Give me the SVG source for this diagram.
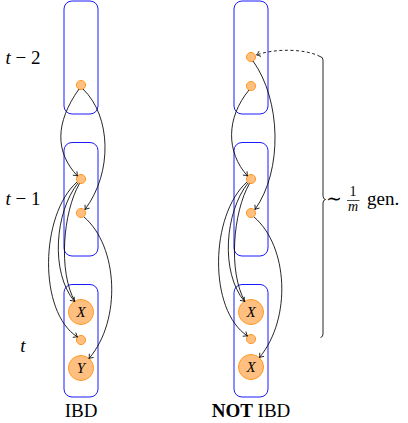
<svg xmlns="http://www.w3.org/2000/svg" width="408" height="423" viewBox="0 0 408 423">
<style>
.box{fill:none;stroke:#0000ff;stroke-width:0.9}
.dot{fill:#ffbf80;stroke:#ff9922;stroke-width:1}
.edge{fill:none;stroke:#000;stroke-width:0.85}
.lbl{font-family:"Liberation Serif","Times New Roman","DejaVu Serif",serif;font-size:19px;fill:#000}
.sm{font-size:14px}
.it{font-style:italic}
.var{font-family:"Liberation Serif","Times New Roman","DejaVu Serif",serif;font-size:15px;font-style:italic;fill:#000}
</style>
<defs>
<marker id="arr" viewBox="-5 -4 6 8" refX="0" refY="0" markerWidth="6" markerHeight="8" orient="auto" markerUnits="userSpaceOnUse">
<path d="M-3.8,-2.8 Q-1.3,-0.6 0,0 Q-1.3,0.6 -3.8,2.8" fill="none" stroke="#000" stroke-width="0.8"/>
</marker>
</defs>

<g id="row-labels">
<text class="lbl" x="23" y="64" text-anchor="middle"><tspan class="it">t</tspan> − 2</text>
<text class="lbl" x="23" y="205" text-anchor="middle"><tspan class="it">t</tspan> − 1</text>
<text class="lbl it" x="23" y="352" text-anchor="middle">t</text>
</g>

<!-- left column (IBD) -->
<g id="L-ind-t2"><rect class="box" x="64" y="1" width="34" height="113" rx="8"/></g>
<g id="L-ind-t1"><rect class="box" x="64" y="142.5" width="34" height="113.5" rx="8"/></g>
<g id="L-ind-t"><rect class="box" x="64" y="284.5" width="34" height="112.5" rx="8"/></g>
<g id="L-g2"><circle class="dot" cx="81" cy="85" r="4.6"/></g>
<g id="L-g1a"><circle class="dot" cx="81" cy="179" r="4.6"/></g>
<g id="L-g1b"><circle class="dot" cx="81" cy="213" r="4.6"/></g>
<g id="L-X"><circle class="dot" cx="81" cy="312" r="12.5"/><text class="var" x="81" y="317" text-anchor="middle">X</text></g>
<g id="L-s"><circle class="dot" cx="81" cy="340" r="4.6"/></g>
<g id="L-Y"><circle class="dot" cx="81" cy="368" r="12.5"/><text class="var" x="81" y="373" text-anchor="middle">Y</text></g>
<text class="lbl" x="81" y="417" text-anchor="middle">IBD</text>

<!-- right column (NOT IBD) -->
<g id="R-ind-t2"><rect class="box" x="234" y="1" width="34" height="113" rx="8"/></g>
<g id="R-ind-t1"><rect class="box" x="234" y="142.5" width="34" height="113.5" rx="8"/></g>
<g id="R-ind-t"><rect class="box" x="234" y="284.5" width="34" height="112.5" rx="8"/></g>
<g id="R-g2a"><circle class="dot" cx="251" cy="57" r="4.6"/></g>
<g id="R-g2b"><circle class="dot" cx="251" cy="86" r="4.6"/></g>
<g id="R-g1a"><circle class="dot" cx="251" cy="179" r="4.6"/></g>
<g id="R-g1b"><circle class="dot" cx="251" cy="213" r="4.6"/></g>
<g id="R-X1"><circle class="dot" cx="251" cy="312" r="12.5"/><text class="var" x="251" y="317" text-anchor="middle">X</text></g>
<g id="R-s"><circle class="dot" cx="251" cy="339" r="4.6"/></g>
<g id="R-X2"><circle class="dot" cx="251" cy="367" r="12.5"/><text class="var" x="251" y="372" text-anchor="middle">X</text></g>
<text class="lbl" x="251" y="417" text-anchor="middle"><tspan style="font-weight:bold">NOT</tspan> IBD</text>

<g id="connectors">
<!-- left -->
<path class="edge" marker-end="url(#arr)" d="M79,89 C55,123 55,152 77.5,176"/>
<path class="edge" marker-end="url(#arr)" d="M83,89 C111,116 113,172 85,209.5"/>
<path class="edge" marker-end="url(#arr)" d="M84,217 C118,246 122,320 89,358.5"/>
<path class="edge" marker-end="url(#arr)" d="M78,183 C55,212 50,272 74.5,301.5"/>
<path class="edge" d="M79.5,183.5 C63,212 58,272 75,301.5"/>
<path class="edge" marker-end="url(#arr)" d="M77,182 C40,215 38,312 77.5,337"/>
<!-- right -->
<path class="edge" marker-end="url(#arr)" d="M249,90 C226,118 226,152 247.5,176"/>
<path class="edge" marker-end="url(#arr)" d="M253,61 C281,100 283,170 255,209.5"/>
<path class="edge" marker-end="url(#arr)" d="M254,217 C288,246 292,318 259.5,357.5"/>
<path class="edge" marker-end="url(#arr)" d="M248,183 C225,212 220,272 244.5,301.5"/>
<path class="edge" d="M249.5,183.5 C233,212 228,272 245,301.5"/>
<path class="edge" marker-end="url(#arr)" d="M247,182 C210,215 208,310 247.5,336"/>
<!-- brace and dashed arrow -->
<path class="edge" d="M320,56.5 Q323,57 323,60 L323,196 Q323,199 325.5,199.5 Q323,200 323,203 L323,334 Q323,337 320.5,337.5"/>
<path class="edge" stroke-dasharray="3,2.5" marker-end="url(#arr)" d="M320,56.5 C306,49 276,48 256.5,55"/>
</g>

<g id="brace-label">
<text class="lbl" x="326" y="205">∼</text>
<text class="lbl sm" x="353" y="196" text-anchor="middle">1</text>
<line x1="347" y1="200.5" x2="359.5" y2="200.5" stroke="#000" stroke-width="0.7"/>
<text class="lbl sm it" x="353" y="211" text-anchor="middle">m</text>
<text class="lbl" x="367" y="205">gen.</text>
</g>
</svg>
